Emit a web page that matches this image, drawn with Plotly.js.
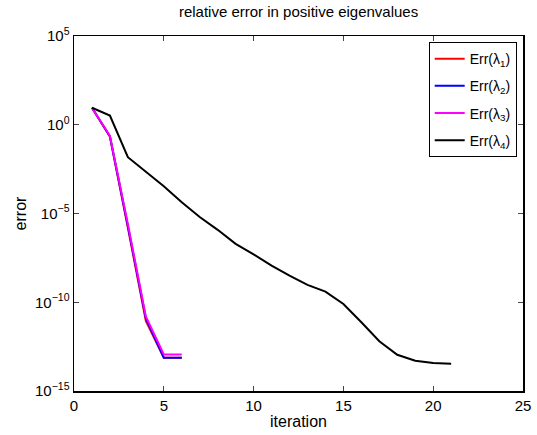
<!DOCTYPE html>
<html>
<head>
<meta charset="utf-8">
<script src="https://cdn.plot.ly/plotly-3.0.1.min.js"></script>
<style>html,body{margin:0;padding:0;background:#fff;}#chart{width:537px;height:435px;}</style>
</head>
<body>
<div id="chart"></div>
<script>
// iterations
const iter1 = [1, 2, 3, 4, 5, 6];
const iter4 = [1, 2, 3, 4, 5, 6, 7, 8, 9, 10, 11, 12, 13, 14, 15, 16, 17, 18, 19, 20, 21];
// log10 of errors
const logErr1 = [0.96, -0.68, -5.8, -11.05, -13.12, -13.12];
const logErr2 = [0.96, -0.65, -5.7, -10.9, -13.12, -13.12];
const logErr3 = [0.96, -0.62, -5.6, -10.8, -12.94, -12.94];
const logErr4 = [0.96, 0.52, -1.83, -2.62, -3.46, -4.37, -5.2, -5.92, -6.71, -7.3, -7.94, -8.5, -9.02, -9.4, -10.1, -11.13, -12.2, -12.96, -13.29, -13.42, -13.46];
const names = ['Err(λ<sub>1</sub>)', 'Err(λ<sub>2</sub>)', 'Err(λ<sub>3</sub>)', 'Err(λ<sub>4</sub>)'];
const colors = ['#ff0000', '#0000ff', '#ff00ff', '#000000'];
const xTicks = [0, 5, 10, 15, 20, 25];
const yTickVals = [1e-15, 1e-10, 1e-5, 1, 1e5];
const yTickText = ['10<sup>−15</sup>', '10<sup>−10</sup>', '10<sup>−5</sup>', '10<sup>0</sup>', '10<sup>5</sup>'];

const pw = a => a.map(v => Math.pow(10, v));
const series = [[iter1, logErr1], [iter1, logErr2], [iter1, logErr3], [iter4, logErr4]];
const traces = series.map((s, i) => ({
  x: s[0], y: pw(s[1]), type: 'scatter', mode: 'lines', name: names[i], legendgroup: 'g' + i,
  line: {color: colors[i], width: 2}
}));

const font = {family: 'Liberation Sans, Arial, sans-serif', color: '#000'};
const layout = {
  width: 537, height: 435,
  margin: {l: 74, r: 14, t: 36, b: 44},
  paper_bgcolor: '#fff', plot_bgcolor: '#fff',
  font: Object.assign({size: 14}, font),
  title: {text: 'relative error in positive eigenvalues', x: 0.556, xanchor: 'center', y: 0.985, yanchor: 'top', font: Object.assign({size: 15}, font)},
  xaxis: {
    range: [0, 25], tickvals: xTicks, ticks: 'inside', ticklen: 5, tickwidth: 1,
    showline: true, linecolor: '#000', linewidth: 1.5, mirror: 'ticks', showgrid: false, zeroline: false,
    tickfont: Object.assign({size: 15}, font),
    title: {text: 'iteration', font: Object.assign({size: 16}, font), standoff: 3}
  },
  yaxis: {
    type: 'log', range: [-15, 5], tickvals: yTickVals, ticktext: yTickText,
    ticks: 'inside', ticklen: 5, tickwidth: 1,
    showline: true, linecolor: '#000', linewidth: 1.5, mirror: 'ticks', showgrid: false, zeroline: false,
    tickfont: Object.assign({size: 15}, font),
    title: {text: 'error', font: Object.assign({size: 16}, font), standoff: 4}
  },
  showlegend: true,
  legend: {
    x: 0.79, y: 0.983, xanchor: 'left', yanchor: 'top',
    bgcolor: '#fff', bordercolor: '#000', borderwidth: 1, traceorder: 'grouped',
    font: Object.assign({size: 14}, font), tracegroupgap: 6
  }
};
Plotly.newPlot('chart', traces, layout, {staticPlot: true, displayModeBar: false});
</script>
</body>
</html>
